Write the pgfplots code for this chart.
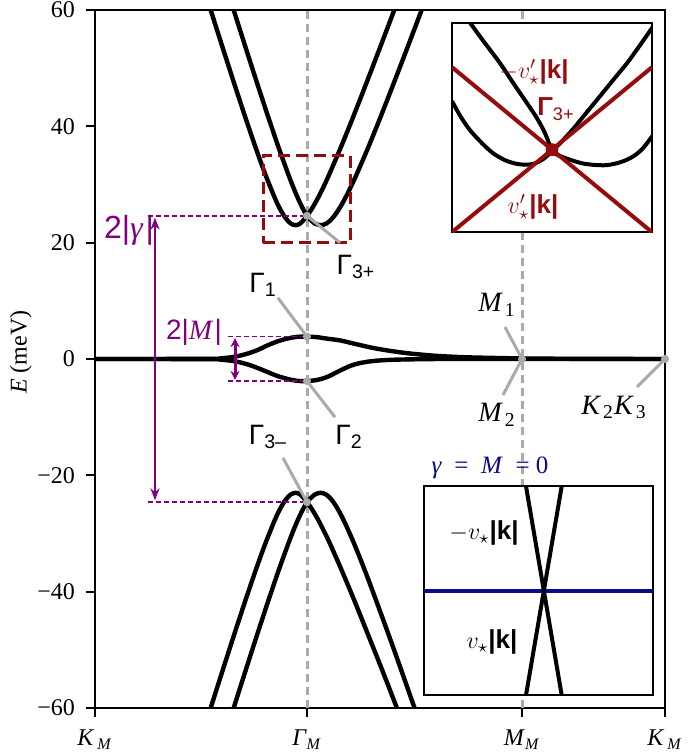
\documentclass[border=0pt]{standalone}
\usepackage{fontspec}
\setmainfont{Liberation Serif}
\setsansfont{Liberation Sans}
\usepackage{pgfplots}
\pgfplotsset{compat=1.18}
\usetikzlibrary{arrows.meta}

\definecolor{dred}{RGB}{150,12,12}
\definecolor{purp}{RGB}{128,0,128}
\definecolor{navyb}{RGB}{10,10,140}
\definecolor{lgray}{RGB}{170,170,170}

% x is measured along the path: K_M=0, Gamma_M=212, M_M=427, K_M=570
\begin{document}
\begin{tikzpicture}
\path[use as bounding box] (-47.5pt,-23.5pt) rectangle (302.5pt,354pt);

\begin{axis}[
    at={(0,0)}, anchor=south west,
    scale only axis, width=285pt, height=349pt,
    xmin=0, xmax=570, ymin=-60, ymax=60,
    xtick={0,212,427,570},
    xticklabels={\textit{K}\kern1.5pt\textsubscript{\textit{M}},
                 \textit{Γ}\textsubscript{\textit{M}},
                 \textit{M}\textsubscript{\textit{M}},
                 \textit{K}\kern1.5pt\textsubscript{\textit{M}}},
    ytick={-60,-40,-20,0,20,40,60},
    yticklabels={−60,−40,−20,0,20,40,60},
    xtick pos=bottom, ytick pos=left,
    tick align=outside, major tick length=4.5pt,
    tick style={line width=1pt, black},
    axis line style={line width=1pt},
    ticklabel style={font=\fontsize{12}{14}\selectfont},
    xticklabel style={yshift=-3pt},
    yticklabel style={xshift=-2pt},
    ylabel={\textit{E} (meV)},
    every axis y label/.style={at={(axis description cs:-0.13,0.51)},
        rotate=90, anchor=center, font=\fontsize{12}{14}\selectfont},
]
% guide lines
\addplot[lgray, line width=1.5pt, dash pattern=on 4pt off 2.5pt] coordinates {(212,-60) (212,60)};
\addplot[lgray, line width=1.5pt, dash pattern=on 4pt off 2.5pt] coordinates {(427,-60) (427,60)};

% upper bands
\addplot[black, line width=2.2pt, smooth] coordinates {
(110.5,62.81)(120.5,57.38)(130.5,52.0)(140.5,46.68)(150.5,41.46)(160.5,36.41)
(170.5,31.65)(180.5,27.41)(185.5,25.65)(190.5,24.24)(195.5,23.32)(200.5,23.0)
(205.5,23.32)(212,24.62)(216.2,25.65)(222.1,27.41)(228.1,29.44)(234.0,31.65)
(245.9,36.41)(257.8,41.46)(269.7,46.68)(281.6,52.0)(293.5,57.38)(305.4,62.81)};
\addplot[black, line width=2.2pt, smooth] coordinates {
(133.5,62.81)(143.5,57.38)(153.5,52.0)(163.5,46.68)(173.5,41.46)(183.5,36.41)
(193.5,31.65)(198.5,29.44)(203.5,27.41)(208.5,25.65)(212,24.62)(213.8,24.24)
(219.7,23.32)(225.7,23.0)(231.7,23.32)(237.6,24.24)(243.5,25.65)(249.5,27.41)
(255.4,29.44)(261.4,31.65)(273.3,36.41)(285.2,41.46)(297.1,46.68)(309.0,52.0)
(320.9,57.38)(332.8,62.81)};

% lower bands
\addplot[black, line width=2.2pt, smooth] coordinates {
(110.5,-62.81)(120.5,-57.38)(130.5,-52.0)(140.5,-46.68)(150.5,-41.46)(160.5,-36.41)
(170.5,-31.65)(180.5,-27.41)(185.5,-25.65)(190.5,-24.24)(195.5,-23.32)(200.5,-23.0)
(205.5,-23.32)(212,-24.62)(216.3,-25.65)(222.4,-27.41)(228.5,-29.44)(234.7,-31.65)
(246.9,-36.41)(259.2,-41.46)(271.4,-46.68)(283.8,-52.0)(296.0,-57.38)(308.2,-62.81)};
\addplot[black, line width=2.2pt, smooth] coordinates {
(133.5,-62.81)(143.5,-57.38)(153.5,-52.0)(163.5,-46.68)(173.5,-41.46)(183.5,-36.41)
(193.5,-31.65)(198.5,-29.44)(203.5,-27.41)(208.5,-25.65)(212,-24.62)(213.8,-24.24)
(219.7,-23.32)(225.7,-23.0)(231.3,-23.32)(236.8,-24.24)(242.3,-25.65)(247.8,-27.41)
(253.3,-29.44)(258.9,-31.65)(270.0,-36.41)(281.0,-41.46)(292.1,-46.68)(303.2,-52.0)
(314.2,-57.38)(325.3,-62.81)};

% flat bands near zero
\addplot[black, line width=2.2pt, smooth] coordinates {
(0,0)(110,0.02)(125,0.1)(140,0.4)(152,0.9)(162,1.5)(172,2.3)(182,3.0)(192,3.5)
(202,3.8)(212,3.85)(222,3.75)(232,3.5)(245,3.2)(260,2.6)(278,1.9)(295,1.4)
(312,1.0)(330,0.7)(345,0.5)(370,0.3)(400,0.18)(427,0.1)(480,0.03)(570,0)};
\addplot[black, line width=2.2pt, smooth] coordinates {
(0,0)(110,-0.02)(125,-0.1)(140,-0.4)(152,-0.9)(162,-1.5)(172,-2.2)(182,-2.9)
(192,-3.4)(202,-3.75)(212,-3.8)(222,-3.6)(232,-3.1)(245,-2.0)(255,-1.2)(265,-0.7)
(278,-0.35)(295,-0.15)(320,-0.05)(360,0)(570,0)};

% gap markers
\addplot[purp, line width=0.8pt, dash pattern=on 2.5pt off 1.5pt] coordinates {(53,24.62) (212,24.62)};
\addplot[purp, line width=0.8pt, dash pattern=on 2.5pt off 1.5pt] coordinates {(53,-24.62) (212,-24.62)};
\addplot[purp, line width=1.2pt, {Stealth[length=6pt,width=4.5pt]}-{Stealth[length=6pt,width=4.5pt]}] coordinates {(60,24.3) (60,-24.3)};
\addplot[purp, line width=0.8pt, dash pattern=on 2.5pt off 1.5pt] coordinates {(133,3.85) (212,3.85)};
\addplot[purp, line width=0.8pt, dash pattern=on 2.5pt off 1.5pt] coordinates {(133,-3.8) (212,-3.8)};
\addplot[purp, line width=1.5pt, {Stealth[length=4.5pt,width=4.5pt]}-{Stealth[length=4.5pt,width=4.5pt]}] coordinates {(140,3.6) (140,-3.6)};
\node[purp, font=\fontsize{16}{18}\selectfont] at (axis cs:34,22.2) {\textsf{2|}\textit{γ}\kern1pt\textsf{|}};
\node[purp, font=\fontsize{14}{16}\selectfont] at (axis cs:99,4.5) {\textsf{2|}\textit{M}\kern0.5pt\textsf{|}};

% zoom box
\addplot[dred, line width=1.5pt, dash pattern=on 6pt off 3pt] coordinates {(168,20)(255,20)(255,35)(168,35)(168,20)};

% pointers
\addplot[lgray, line width=1.5pt] coordinates {(245,20) (212,24.62)};
\addplot[lgray, line width=1.5pt] coordinates {(183,10.5) (212,3.85)};
\addplot[lgray, line width=1.5pt] coordinates {(240,-10) (212,-3.8)};
\addplot[lgray, line width=1.5pt] coordinates {(188,-17) (212,-24.62)};
\addplot[lgray, line width=1.5pt] coordinates {(410,5.5) (427,0)};
\addplot[lgray, line width=1.5pt] coordinates {(408,-6.2) (427,0)};
\addplot[lgray, line width=1.5pt] coordinates {(542,-4.8) (570,0)};
\addplot[only marks, mark=*, mark size=1.8pt, lgray] coordinates {(212,24.62)(212,3.85)(212,-3.8)(212,-24.62)(427,0)(570,0)};

\node[font=\fontsize{14}{16}\selectfont] at (axis cs:261,15.8) {\textsf{Γ\textsubscript{3+}}};
\node[font=\fontsize{14}{16}\selectfont] at (axis cs:168,12.7) {\textsf{Γ\textsubscript{1}}};
\node[font=\fontsize{14}{16}\selectfont] at (axis cs:254,-13.4) {\textsf{Γ\textsubscript{2}}};
\node[font=\fontsize{14}{16}\selectfont] at (axis cs:173,-13.4) {\textsf{Γ\textsubscript{3–}}};
\node[font=\fontsize{14}{16}\selectfont] at (axis cs:402,9.3) {\textit{M}\kern1pt\textsubscript{1}};
\node[font=\fontsize{14}{16}\selectfont] at (axis cs:402,-9.6) {\textit{M}\kern1pt\textsubscript{2}};
\node[font=\fontsize{14}{16}\selectfont] at (axis cs:519,-8.3) {\textit{K}\kern1pt\textsubscript{2}\textit{K}\kern1pt\textsubscript{3}};
\node[navyb, font=\fontsize{12.5}{14}\selectfont] at (axis cs:395,-18.7) {\textit{γ}\enspace=\enspace\textit{M}\enspace= 0};
\end{axis}

% inset near Gamma_3+
\begin{axis}[
    at={(178.5pt,237.9pt)}, anchor=south west,
    scale only axis, width=100pt, height=104.5pt,
    xmin=0, xmax=200, ymin=0, ymax=209,
    xtick=\empty, ytick=\empty,
    axis line style={line width=1pt},
    axis background/.style={fill=white},
]
\addplot[black, line width=2pt, smooth] coordinates {
(0,131)(9,115)(18,102)(30,89)(41,79)(53,72)(64,68.5)(73,67.5)(82,68.5)(91,73)
(100,81)(110,91)(121,103)(134,119)(148,136)(161,152)(175,169)(188,187)(202,207)};
\addplot[black, line width=2pt, smooth] coordinates {
(14,215)(30,193)(48,169)(62,148)(75,129)(85,114)(93,99)(100,82)(106,77)(111,75)
(121,71.5)(131,68.7)(142,67.3)(154,67)(165,69)(175,72.5)(183,77)(191,84)(201,97)};
\addplot[dred, line width=2pt] coordinates {(0,165) (200,0)};
\addplot[dred, line width=2pt] coordinates {(0,0) (200,165)};
\addplot[only marks, mark=*, mark size=3pt, dred] coordinates {(100,82.5)};
\node[dred, font=\fontsize{13}{15}\selectfont] at (axis cs:82,160) {$-v'_{\star}$\textsf{\bfseries |k|}};
\node[dred, font=\fontsize{13}{15}\selectfont] at (axis cs:104,123) {\textsf{\bfseries Γ}\textsf{\textsubscript{3+}}};
\node[dred, font=\fontsize{13}{15}\selectfont] at (axis cs:81,25) {$v'_{\star}$\textsf{\bfseries |k|}};
\end{axis}

% inset for gamma = M = 0
\begin{axis}[
    at={(164.5pt,6.4pt)}, anchor=south west,
    scale only axis, width=114.5pt, height=104.5pt,
    xmin=0, xmax=229, ymin=0, ymax=209,
    xtick=\empty, ytick=\empty,
    axis line style={line width=1pt},
    axis background/.style={fill=white},
]
\addplot[navyb, line width=2pt] coordinates {(0,104.5) (229,104.5)};
\addplot[black, line width=2pt] coordinates {(102,209) (137.7,0)};
\addplot[black, line width=2pt] coordinates {(137.7,209) (102,0)};
\node[font=\fontsize{13}{15}\selectfont] at (axis cs:60,162) {$-v_{\star}$\textsf{\bfseries |k|}};
\node[font=\fontsize{13}{15}\selectfont] at (axis cs:68,53) {$v_{\star}$\textsf{\bfseries |k|}};
\end{axis}
\end{tikzpicture}
\end{document}
